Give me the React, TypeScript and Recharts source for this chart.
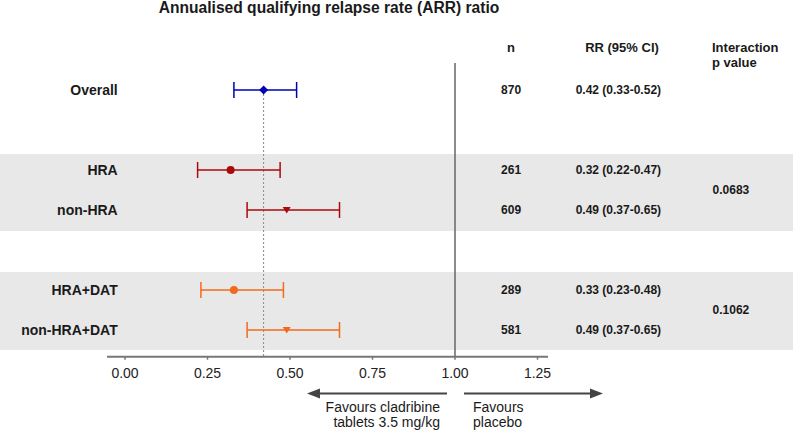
import {
  ComposedChart,
  Scatter,
  XAxis,
  YAxis,
  ReferenceArea,
  ReferenceLine,
  ErrorBar,
  Customized,
} from "recharts";

const categories = ["Overall", "HRA", "non-HRA", "HRA+DAT", "non-HRA+DAT"];
const rowIndex = [0, 2, 3, 5, 6];
const rrValues = [0.42, 0.32, 0.49, 0.33, 0.49];
const ciLower = [0.33, 0.22, 0.37, 0.23, 0.37];
const ciUpper = [0.52, 0.47, 0.65, 0.48, 0.65];
const nValues = [870, 261, 609, 289, 581];
const pValues = ["0.0683", "0.1062"];
const pRows = [2.5, 5.5];
const xTicks = [0, 0.25, 0.5, 0.75, 1, 1.25];

// styles per row (colour + marker)
const rowStyle = [
  { color: "#0000b4", marker: "diamond" },
  { color: "#aa0a0a", marker: "circle" },
  { color: "#aa0a0a", marker: "triangleDown" },
  { color: "#f26a1b", marker: "circle" },
  { color: "#f26a1b", marker: "triangleDown" },
];

const FONT = "Arial, 'Liberation Sans', sans-serif";
const X_DOMAIN: [number, number] = [-0.3788, 2.0242];
const Y_DOMAIN: [number, number] = [-0.675, 6.6675];
const bands = [
  [1.6, 3.525],
  [4.55, 6.5],
];
const COL_LABEL = -0.022;
const COL_N = 1.17;
const COL_RR = 1.495;
const COL_P = 1.836;

const fmt = (v: number) => v.toFixed(2);

function Marker(props: any) {
  const { cx, cy, color, marker } = props;
  if (cx == null || cy == null) return null;
  if (marker === "diamond") {
    const r = 4.5;
    return <polygon points={`${cx},${cy - r} ${cx + r},${cy} ${cx},${cy + r} ${cx - r},${cy}`} fill={color} />;
  }
  if (marker === "circle") {
    return <circle cx={cx} cy={cy} r={4} fill={color} />;
  }
  return <polygon points={`${cx - 4},${cy - 3} ${cx + 4},${cy - 3} ${cx},${cy + 3.5}`} fill={color} />;
}

function TextCell(props: any) {
  const { cx, cy, payload, anchor, fs, weight } = props;
  if (cx == null || cy == null) return null;
  return (
    <text
      x={cx}
      y={cy}
      textAnchor={anchor}
      dominantBaseline="central"
      fontSize={fs}
      fontWeight={weight}
      fontFamily={FONT}
      fill="#1a1a1a"
    >
      {payload.text}
    </text>
  );
}

function Annotations() {
  const arrow = "#444";
  return (
    <g fontFamily={FONT}>
      <text x={329} y={13} textAnchor="middle" fontSize={15.6} fontWeight="bold" fill="#1a1a1a">
        Annualised qualifying relapse rate (ARR) ratio
      </text>
      <text x={511} y={52} textAnchor="middle" fontSize={13} fontWeight="bold" fill="#1a1a1a">
        n
      </text>
      <text x={622} y={52} textAnchor="middle" fontSize={13} fontWeight="bold" fill="#1a1a1a">
        RR (95% CI)
      </text>
      <text x={712} y={52} fontSize={13} fontWeight="bold" fill="#1a1a1a">
        Interaction
      </text>
      <text x={712} y={67} fontSize={13} fontWeight="bold" fill="#1a1a1a">
        p value
      </text>
      <line x1={447} y1={393.5} x2={318} y2={393.5} stroke={arrow} strokeWidth={2} />
      <polygon points="307,393.5 320,388.5 320,398.5" fill={arrow} />
      <line x1={464} y1={393.5} x2={592} y2={393.5} stroke={arrow} strokeWidth={2} />
      <polygon points="603,393.5 590,388.5 590,398.5" fill={arrow} />
      <text x={440} y={411.5} textAnchor="end" fontSize={14} fill="#1a1a1a">
        Favours cladribine
      </text>
      <text x={440} y={427} textAnchor="end" fontSize={14} fill="#1a1a1a">
        tablets 3.5 mg/kg
      </text>
      <text x={473} y={411.5} fontSize={14} fill="#1a1a1a">
        Favours
      </text>
      <text x={473} y={427} fontSize={14} fill="#1a1a1a">
        placebo
      </text>
    </g>
  );
}

export default function App() {
  const rows = categories.map((c, i) => ({
    x: rrValues[i],
    y: rowIndex[i],
    err: [rrValues[i] - ciLower[i], ciUpper[i] - rrValues[i]],
    label: c,
  }));
  const labelData = categories.map((c, i) => ({ x: COL_LABEL, y: rowIndex[i], text: c }));
  const nData = nValues.map((n, i) => ({ x: COL_N, y: rowIndex[i], text: String(n) }));
  const rrData = rrValues.map((v, i) => ({
    x: COL_RR,
    y: rowIndex[i],
    text: `${fmt(v)} (${fmt(ciLower[i])}-${fmt(ciUpper[i])})`,
  }));
  const pData = pValues.map((p, i) => ({ x: COL_P, y: pRows[i], text: p }));

  return (
    <div style={{ position: "absolute", left: 0, top: 0, background: "#fff" }}>
      <ComposedChart width={796} height={431} margin={{ top: 63, right: 3, left: 0, bottom: 44.3 }}>
        <XAxis
          type="number"
          dataKey="x"
          domain={X_DOMAIN}
          ticks={xTicks}
          interval={0}
          allowDataOverflow
          tickFormatter={fmt}
          axisLine={false}
          tickLine={{ stroke: "#777", strokeWidth: 1.5 }}
          tickSize={3}
          tickMargin={8}
          height={30}
          tick={{ fontSize: 14, fill: "#222", fontFamily: FONT }}
        />
        <YAxis type="number" dataKey="y" domain={Y_DOMAIN} reversed hide allowDataOverflow />
        {bands.map(([a, b], i) => (
          <ReferenceArea key={i} y1={a} y2={b} fill="#e8e8e8" fillOpacity={1} stroke="none" ifOverflow="visible" />
        ))}
        <ReferenceLine x={1} stroke="#666" strokeWidth={1.5} />
        <ReferenceLine
          segment={[
            { x: rrValues[0], y: rowIndex[0] },
            { x: rrValues[0], y: Y_DOMAIN[1] },
          ]}
          stroke="#888"
          strokeDasharray="2 2"
          ifOverflow="visible"
        />
        <ReferenceLine
          segment={[
            { x: -0.0545, y: Y_DOMAIN[1] },
            { x: 1.282, y: Y_DOMAIN[1] },
          ]}
          stroke="#777"
          strokeWidth={2}
          ifOverflow="visible"
        />
        {rows.map((r, i) => (
          <Scatter
            key={r.label}
            data={[r]}
            isAnimationActive={false}
            shape={(p: any) => <Marker {...p} color={rowStyle[i].color} marker={rowStyle[i].marker} />}
          >
            <ErrorBar
              dataKey="err"
              direction="x"
              width={8}
              stroke={rowStyle[i].color}
              strokeWidth={1.5}
              isAnimationActive={false}
            />
          </Scatter>
        ))}
        <Scatter
          data={labelData}
          isAnimationActive={false}
          shape={(p: any) => <TextCell {...p} anchor="end" fs={14} weight="bold" />}
        />
        <Scatter
          data={nData}
          isAnimationActive={false}
          shape={(p: any) => <TextCell {...p} anchor="middle" fs={12} weight="bold" />}
        />
        <Scatter
          data={rrData}
          isAnimationActive={false}
          shape={(p: any) => <TextCell {...p} anchor="middle" fs={12} weight="bold" />}
        />
        <Scatter
          data={pData}
          isAnimationActive={false}
          shape={(p: any) => <TextCell {...p} anchor="middle" fs={12} weight="bold" />}
        />
        <Customized component={Annotations} />
      </ComposedChart>
    </div>
  );
}
